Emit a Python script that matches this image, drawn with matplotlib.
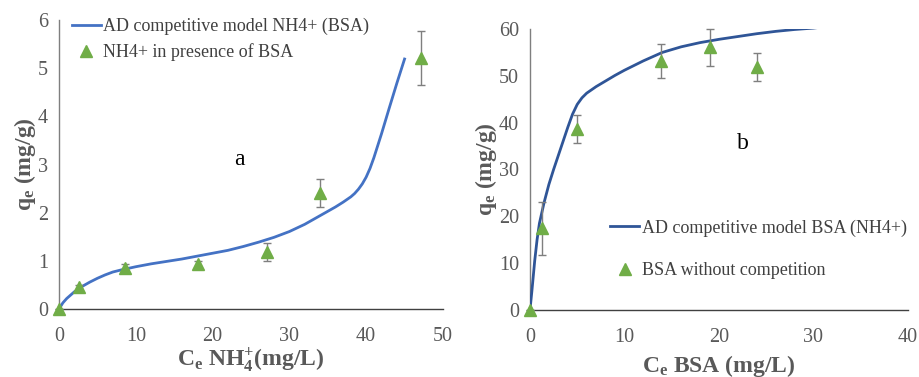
import matplotlib
matplotlib.use("Agg")
import matplotlib.pyplot as plt

# ── panel a: NH4+ uptake with BSA present ────────────────────────────────
nh4_x   = [0, 2.6, 8.6, 18.1, 27.1, 34.0, 47.1]
nh4_q   = [0, 0.46, 0.86, 0.93, 1.19, 2.41, 5.21]
nh4_err = [0, 0.04, 0.08, 0.07, 0.19, 0.29, 0.56]

nh4_fit_x = [0, 0.5, 1, 2, 3, 4, 5, 6, 7, 8, 10, 12, 14, 16, 18, 20, 22, 24,
             26, 28, 30, 32, 34, 36, 37, 38, 38.5, 39, 39.5, 40, 40.5, 41,
             42, 43, 44, 45]
nh4_fit_q = [0, 0.13, 0.22, 0.36, 0.47, 0.56, 0.64, 0.71, 0.77, 0.81, 0.88,
             0.94, 0.99, 1.04, 1.10, 1.16, 1.22, 1.30, 1.39, 1.49, 1.61,
             1.76, 1.94, 2.12, 2.22, 2.33, 2.40, 2.49, 2.60, 2.74, 2.92, 3.14,
             3.64, 4.17, 4.69, 5.19]

# ── panel b: BSA uptake without competition ──────────────────────────────
bsa_x   = [0, 1.25, 4.97, 13.9, 19.0, 24.0]
bsa_q   = [0, 17.4, 38.7, 53.1, 56.1, 51.9]
bsa_err = [0, 5.6, 3.0, 3.6, 4.0, 3.0]

bsa_fit_x = [0, 0.2, 0.5, 0.75, 1.0, 1.5, 2.0, 2.5, 3.0, 3.5, 4.0, 4.5, 5.0,
             5.5, 6.0, 6.5, 7.0, 8.0, 9.0, 10, 12, 14, 16, 18, 20, 22, 24,
             26, 28, 30, 30.8]
bsa_fit_q = [0, 4.0, 10.5, 15.0, 18.5, 23.0, 26.8, 30.0, 33.0, 36.0, 39.0,
             41.8, 43.9, 45.3, 46.3, 47.0, 47.7, 48.9, 50.1, 51.2, 53.2, 55.0,
             56.2, 57.1, 57.8, 58.4, 59.0, 59.5, 59.9, 60.2, 60.4]

GREY   = "#595959"
AXIS   = "#7f7f7f"
GREEN  = "#70ad47"
BLUE_A = "#4472c4"
BLUE_B = "#2f5597"

plt.rcParams.update({
    "font.family": "serif",
    "font.serif": ["Liberation Serif", "DejaVu Serif"],
    "mathtext.fontset": "custom",
    "mathtext.rm": "Liberation Serif:bold",
    "mathtext.it": "Liberation Serif:bold",
    "mathtext.bf": "Liberation Serif:bold",
})


def _frame(ax):
    for s in ("top", "right"):
        ax.spines[s].set_visible(False)
    ax.spines["left"].set_color(AXIS)
    ax.spines["bottom"].set_color("#404040")
    ax.spines["left"].set_linewidth(1.0)
    ax.spines["bottom"].set_linewidth(1.0)
    ax.tick_params(length=0, labelsize=14.5, colors=GREY)
    ax.tick_params(axis="x", pad=13)
    ax.tick_params(axis="y", pad=8)


fig = plt.figure(figsize=(9.19, 3.77), dpi=100)

# panel a
ax1 = fig.add_axes([0.0642, 0.180, 0.4178, 0.767])
ax1.plot(nh4_fit_x, nh4_fit_q, color=BLUE_A, lw=2.0,
         label="AD competitive model NH4+ (BSA)", zorder=3)
ax1.errorbar(nh4_x, nh4_q, yerr=nh4_err, fmt="^", color=GREEN, ms=9,
             ecolor="#7f7f7f", elinewidth=1.0, capsize=3, capthick=1.0,
             mec=GREEN, label="NH4+ in presence of BSA", zorder=4,
             clip_on=False)
ax1.set_xlim(0, 50)
ax1.set_ylim(0, 6)
ax1.set_xticks(range(0, 51, 10))
ax1.set_yticks(range(0, 7))
ax1.set_xlabel(r"C$_\mathrm{e}$ NH$_4^{+}$(mg/L)", fontsize=17,
               fontweight="bold", color=GREY, labelpad=0)
ax1.set_ylabel(r"q$_\mathrm{e}$ (mg/g)", fontsize=17,
               fontweight="bold", color=GREY, labelpad=0)
ax1.text(23.5, 3.1, "a", fontsize=17, color="black", ha="center",
         va="center")
h, l = ax1.get_legend_handles_labels()
ax1.legend([h[0], h[1][0]], l, loc="upper left", bbox_to_anchor=(0.0, 1.05),
           frameon=False, fontsize=13, labelcolor="#404040",
           handlelength=1.6, handletextpad=0.15, labelspacing=0.45,
           borderaxespad=0.3)
_frame(ax1)

# panel b
ax2 = fig.add_axes([0.5767, 0.178, 0.4113, 0.745])
ax2.plot(bsa_fit_x, bsa_fit_q, color=BLUE_B, lw=2.0,
         label="AD competitive model BSA (NH4+)", zorder=3)
ax2.errorbar(bsa_x, bsa_q, yerr=bsa_err, fmt="^", color=GREEN, ms=9,
             ecolor="#7f7f7f", elinewidth=1.0, capsize=3, capthick=1.0,
             mec=GREEN, label="BSA without competition", zorder=4,
             clip_on=False)
ax2.set_xlim(0, 40)
ax2.set_ylim(0, 60)
ax2.set_xticks(range(0, 41, 10))
ax2.set_yticks(range(0, 61, 10))
ax2.set_xlabel(r"C$_\mathrm{e}$ BSA (mg/L)", fontsize=17,
               fontweight="bold", color=GREY, labelpad=4)
ax2.set_ylabel(r"q$_\mathrm{e}$ (mg/g)", fontsize=17,
               fontweight="bold", color=GREY, labelpad=0)
ax2.text(22.5, 35.5, "b", fontsize=17, color="black", ha="center",
         va="center")
h, l = ax2.get_legend_handles_labels()
ax2.legend([h[0], h[1][0]], l, loc="center right", bbox_to_anchor=(1.016, 0.215),
           frameon=False, fontsize=13, labelcolor="#404040",
           handlelength=1.6, handletextpad=0.15, labelspacing=1.42,
           borderaxespad=0.0)
_frame(ax2)

fig.savefig("out.png", dpi=100)
